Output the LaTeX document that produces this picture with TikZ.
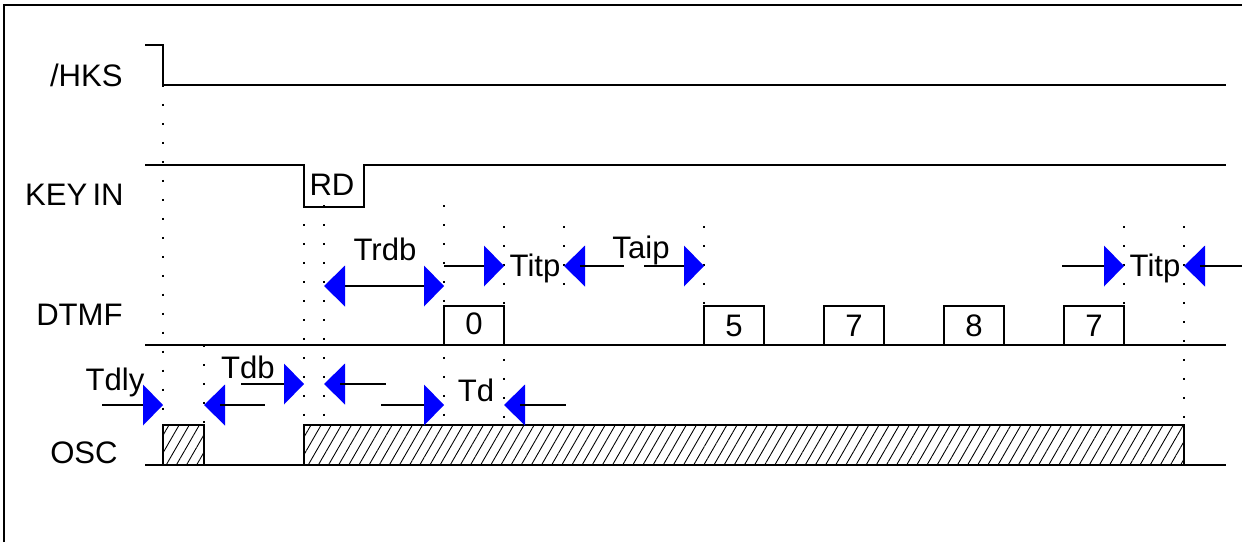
\documentclass[tikz,border=0pt]{standalone}
\usepackage{fontspec}
\setmainfont{Liberation Sans}
\usetikzlibrary{patterns.meta}

\tikzset{
  senal/.style={line width=1.1pt},
  guia/.style={line width=1.1pt, dash pattern=on 1.1pt off 9.7pt},
  flecha/.style={fill=blue},
  etiqueta/.style={inner sep=0pt, anchor=base east},
  texto/.style={inner sep=0pt, anchor=base},
  rayado/.style={senal, pattern={Lines[angle=60,distance=5pt,line width=0.5pt]}}
}

\begin{document}
\begin{tikzpicture}[x=0.02cm, y=-0.02cm, font=\fontsize{17.7}{21}\selectfont]
        \useasboundingbox (0,0) rectangle (1242,542);

        % Marco
        \draw[line width=1.4pt] (4,542) -- (4,5) -- (1242,5);

        % Nombres de las senales
        \node[etiqueta] (hks) at (123,86) {/HKS};
        \node[etiqueta] (keyin) at (124,205) {KEY\,IN};
        \node[etiqueta] (dtmf) at (123,325) {DTMF};
        \node[etiqueta] (osc) at (118,463) {OSC};

        % Lineas de referencia punteadas
        \draw[guia] (163,85) -- (163,425);
        \draw[guia] (204,345) -- (204,425);
        \draw[guia] (304,205) -- (304,425);
        \draw[guia] (324,205) -- (324,425);
        \draw[guia] (444,205) -- (444,425);
        \draw[guia] (504,226) -- (504,425);
        \draw[guia] (564,226) -- (564,300);
        \draw[guia] (704,226) -- (704,306);
        \draw[guia] (1124,226) -- (1124,306);
        \draw[guia] (1184,226) -- (1184,425);

        % Senal /HKS
        \draw[senal] (145,45) -- (163,45) -- (163,85) -- (1226,85);

        % Senal KEY IN con el pulso RD
        \draw[senal] (145,165) -- (304,165) -- (304,207) -- (364,207) -- (364,165) -- (1226,165);
        \node[texto] (rd) at (332,195) {RD};

        % Senal DTMF con los digitos
        \draw[senal] (145,345) -- (1226,345);
        \draw[senal] (444,345) -- (444,306) -- (504,306) -- (504,345);
        \node[texto] (d0) at (474,334) {0};
        \draw[senal] (704,345) -- (704,306) -- (764,306) -- (764,345);
        \node[texto] (d5) at (734,336) {5};
        \draw[senal] (824,345) -- (824,306) -- (884,306) -- (884,345);
        \node[texto] (d7a) at (854,336) {7};
        \draw[senal] (944,345) -- (944,306) -- (1004,306) -- (1004,345);
        \node[texto] (d8) at (974,336) {8};
        \draw[senal] (1064,345) -- (1064,306) -- (1124,306) -- (1124,345);
        \node[texto] (d7b) at (1094,336) {7};

        % Senal OSC rayada
        \draw[rayado] (163,465) rectangle (204,425);
        \draw[rayado] (304,465) rectangle (1184,425);
        \draw[senal] (145,465) -- (1226,465);

        % Cota Trdb
        \draw[senal] (340,286) -- (428,286);
        \fill[flecha] (324,286) -- ++(21,-20.5) -- ++(0,41) -- cycle;
        \fill[flecha] (444,286) -- ++(-20,-20.5) -- ++(0,41) -- cycle;
        \node[texto] (trdb) at (385,260) {Trdb};

        % Cota Titp (primer digito)
        \draw[senal] (444,266) -- (488,266);
        \fill[flecha] (504,266) -- ++(-20,-20.5) -- ++(0,41) -- cycle;
        \node[texto] (titp1) at (535,276) {Titp};
        \fill[flecha] (564,266) -- ++(21,-20.5) -- ++(0,41) -- cycle;
        \draw[senal] (580,266) -- (624,266);

        % Cota Taip
        \node[texto] (taip) at (641,258) {Taip};
        \draw[senal] (644,266) -- (688,266);
        \fill[flecha] (704,266) -- ++(-20,-20.5) -- ++(0,41) -- cycle;

        % Cota Titp (ultimo digito)
        \draw[senal] (1062,266) -- (1108,266);
        \fill[flecha] (1124,266) -- ++(-20,-20.5) -- ++(0,41) -- cycle;
        \node[texto] (titp2) at (1155,276) {Titp};
        \fill[flecha] (1184,266) -- ++(21,-20.5) -- ++(0,41) -- cycle;
        \draw[senal] (1200,266) -- (1242,266);

        % Cota Tdly
        \node[texto] (tdly) at (115,390) {Tdly};
        \draw[senal] (102,405) -- (147,405);
        \fill[flecha] (163,405) -- ++(-20,-20.5) -- ++(0,41) -- cycle;

        % Cota Tdb
        \fill[flecha] (204,405) -- ++(21,-20.5) -- ++(0,41) -- cycle;
        \draw[senal] (220,405) -- (265,405);
        \node[texto] (tdb) at (248,378) {Tdb};
        \draw[senal] (241,384) -- (288,384);
        \fill[flecha] (304,384) -- ++(-20,-20.5) -- ++(0,41) -- cycle;

        % Cota Td
        \fill[flecha] (324,384) -- ++(21,-20.5) -- ++(0,41) -- cycle;
        \draw[senal] (340,384) -- (386,384);
        \draw[senal] (381,405) -- (428,405);
        \fill[flecha] (444,405) -- ++(-20,-20.5) -- ++(0,41) -- cycle;
        \node[texto] (td) at (476,401) {Td};
        \fill[flecha] (504,405) -- ++(21,-20.5) -- ++(0,41) -- cycle;
        \draw[senal] (520,405) -- (566,405);
\end{tikzpicture}
\end{document}
